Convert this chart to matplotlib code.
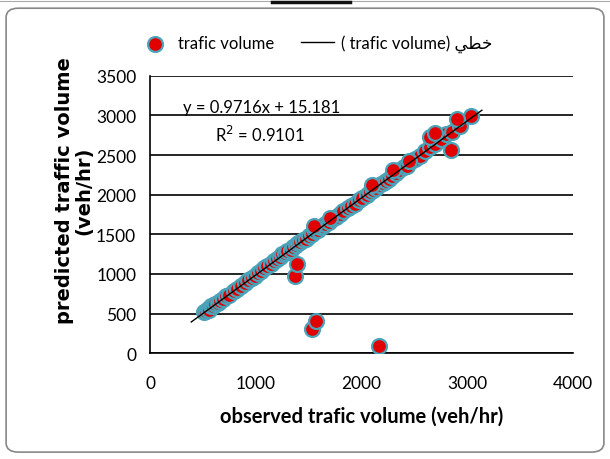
import numpy as np
import matplotlib.pyplot as plt
from matplotlib.patches import FancyBboxPatch
from matplotlib.lines import Line2D

# observed vs predicted traffic volume (veh/hr)
observed = [510, 530, 545, 560, 580, 600, 615, 640, 660, 690, 720, 750, 790, 820,
            860, 900, 930, 960, 990, 1020, 1050, 1080, 1110, 1140, 1170, 1200, 1230,
            1250, 1280, 1300, 1330, 1350, 1380, 1400, 1420, 1450, 1480, 1500, 1530,
            1560, 1590, 1610, 1640, 1660, 1690, 1720, 1760, 1800, 1830, 1870, 1900,
            1940, 1980, 2010, 2050, 2080, 2110, 2140, 2170, 2200, 2230, 2260, 2290,
            2330, 2360, 2400, 2430, 2470, 2510, 2550, 2600, 2650, 2700, 2750, 2800,
            2860, 2930, 3040, 1550, 1700, 2100, 2300, 2450, 2650, 2700, 2900,
            1375, 1390, 1530, 1570, 2170, 2850]
predicted = [520, 530, 560, 545, 590, 600, 625, 630, 660, 685, 720, 740, 780, 815,
             850, 890, 925, 950, 975, 1010, 1040, 1075, 1095, 1130, 1160, 1185, 1215,
             1250, 1260, 1290, 1305, 1340, 1360, 1395, 1400, 1430, 1445, 1480, 1500,
             1545, 1560, 1590, 1610, 1625, 1660, 1690, 1720, 1760, 1790, 1830, 1860,
             1880, 1930, 1960, 2000, 2040, 2060, 2090, 2120, 2150, 2170, 2200, 2230,
             2280, 2310, 2350, 2360, 2420, 2450, 2490, 2550, 2600, 2640, 2700, 2760,
             2790, 2870, 2990, 1600, 1700, 2120, 2310, 2420, 2730, 2780, 2950,
             980, 1120, 300, 400, 95, 2570]

slope, intercept = 0.9716, 15.181
trend_x = np.array([390, 3140])

label_font = ['Lato', 'DejaVu Sans']

fig = plt.figure(figsize=(6.1, 4.6), dpi=100)
ax = fig.add_axes([0.246, 0.230, 0.693, 0.603])

ax.scatter(observed, predicted, s=115, color='#e00000', edgecolors='#4aa3b8',
           linewidths=1.6, zorder=3, label='trafic volume')
ax.plot(trend_x, slope * trend_x + intercept, color='black', lw=1, zorder=4,
        label='( trafic volume) \ufef2\ufec4\ufea7')

ax.set_xlim(0, 4000)
ax.set_ylim(0, 3500)
ax.set_xticks(range(0, 4001, 1000))
ax.set_yticks(range(0, 3501, 500))
ax.yaxis.grid(True, color='black', lw=1.2)
ax.set_axisbelow(True)
for s in ['top', 'right']:
    ax.spines[s].set_visible(False)
for s in ['left', 'bottom']:
    ax.spines[s].set_linewidth(1.2)
ax.tick_params(length=0, labelsize=12.5)
ax.tick_params(axis='x', pad=16)
ax.tick_params(axis='y', pad=10)
for lab in ax.get_xticklabels() + ax.get_yticklabels():
    lab.set_family(label_font)

ax.set_xlabel('observed trafic volume (veh/hr)', family=label_font,
              fontsize=14.5, fontweight='bold', labelpad=10)
ax.set_ylabel('predicted traffic volume\n(veh/hr)', family='DejaVu Sans',
              fontsize=14, fontweight='bold', linespacing=1.0)
ax.yaxis.set_label_coords(-0.135, 0.59)

ax.text(312, 3110, 'y = 0.9716x + 15.181', va='center',
        family=label_font, fontsize=12)
ax.text(615, 2770, 'R$^2$ = 0.9101', va='center',
        family=label_font, fontsize=12)

ax.legend(loc='lower center', bbox_to_anchor=(0.39, 1.03), ncol=2, frameon=False,
          prop={'family': label_font, 'size': 12}, handlelength=2.0,
          columnspacing=1.6, handletextpad=0.4)

fig.patches.append(FancyBboxPatch((0.01, 0.015), 0.98, 0.965,
                                  boxstyle='round,pad=0,rounding_size=0.02',
                                  transform=fig.transFigure, fill=False,
                                  edgecolor='#888888', lw=1.2))
# cropping remnants along the top edge
fig.add_artist(Line2D([0, 1], [0.996, 0.996], color='#aaaaaa', lw=0.8))
fig.add_artist(Line2D([272 / 610, 350 / 610], [0.993, 0.993], color='#111111', lw=2.5))

fig.savefig('out.png', dpi=100)
